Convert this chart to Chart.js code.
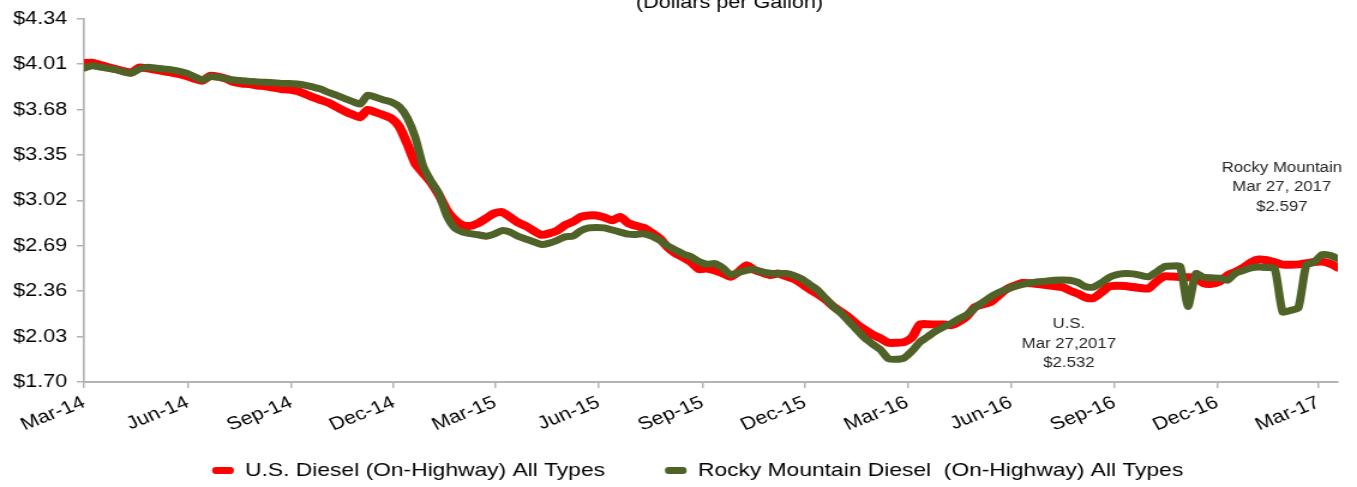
<!DOCTYPE html>
<html lang="en">
<head>
  <meta charset="UTF-8">
  <title>U.S. vs Rocky Mountain Diesel Prices</title>
  <script src="https://cdn.jsdelivr.net/npm/chart.js"></script>
  <style>
    body {
      margin: 0;
      background-color: #ffffff;
    }
  </style>
</head>
<body>
  <!-- the reference is a horizontally stretched picture, so the canvas is drawn narrower and stretched -->
  <canvas id="priceChart" width="1131" height="487" style="display:block;width:1357px;height:487px"></canvas>

  <script>
    // weekly prices, first week = Mar 10, 2014, last week = Mar 27, 2017
    const usDiesel = [
      4.018, 4.020, 4.005, 3.990, 3.975, 3.960, 3.950, 3.985, 3.980, 3.970,
      3.960, 3.950, 3.940, 3.925, 3.905, 3.890, 3.925, 3.920, 3.905, 3.880,
      3.870, 3.865, 3.855, 3.850, 3.840, 3.830, 3.825, 3.815, 3.795, 3.770,
      3.750, 3.730, 3.700, 3.670, 3.645, 3.625, 3.678, 3.660, 3.640, 3.615,
      3.555, 3.430, 3.290, 3.220, 3.150, 3.060, 2.950, 2.880, 2.840, 2.835,
      2.855, 2.890, 2.925, 2.935, 2.900, 2.860, 2.835, 2.800, 2.770, 2.780,
      2.800, 2.840, 2.865, 2.900, 2.910, 2.910, 2.895, 2.875, 2.900, 2.855,
      2.835, 2.820, 2.785, 2.745, 2.680, 2.635, 2.605, 2.570, 2.520, 2.525,
      2.510, 2.490, 2.465, 2.500, 2.548, 2.515, 2.495, 2.478, 2.488, 2.470,
      2.450, 2.415, 2.375, 2.340, 2.300, 2.250, 2.210, 2.170, 2.120, 2.080,
      2.045, 2.017, 1.985, 1.985, 1.990, 2.025, 2.118, 2.120, 2.118, 2.118,
      2.113, 2.140, 2.180, 2.245, 2.265, 2.282, 2.330, 2.375, 2.400, 2.420,
      2.418, 2.412, 2.405, 2.398, 2.390, 2.365, 2.343, 2.315, 2.310, 2.350,
      2.395, 2.400, 2.398, 2.390, 2.383, 2.380, 2.430, 2.468, 2.466, 2.464,
      2.462, 2.455, 2.418, 2.414, 2.430, 2.475, 2.500, 2.530, 2.570, 2.590,
      2.585, 2.570, 2.553, 2.553, 2.555, 2.563, 2.572, 2.575, 2.560, 2.532
    ];

    const rockyDiesel = [
      3.982, 3.999, 3.990, 3.980, 3.970, 3.955, 3.945, 3.975, 3.987, 3.983,
      3.975, 3.970, 3.960, 3.945, 3.920, 3.895, 3.920, 3.915, 3.905, 3.895,
      3.890, 3.885, 3.880, 3.878, 3.875, 3.870, 3.870, 3.866, 3.858, 3.845,
      3.830, 3.805, 3.785, 3.762, 3.740, 3.720, 3.785, 3.770, 3.750, 3.735,
      3.700, 3.620, 3.480, 3.270, 3.160, 3.070, 2.910, 2.820, 2.790, 2.778,
      2.770, 2.760, 2.775, 2.800, 2.790, 2.760, 2.740, 2.720, 2.700, 2.710,
      2.730, 2.755, 2.760, 2.800, 2.820, 2.823, 2.820, 2.805, 2.790, 2.775,
      2.772, 2.778, 2.760, 2.730, 2.690, 2.660, 2.630, 2.610, 2.575, 2.556,
      2.561, 2.530, 2.480, 2.495, 2.512, 2.517, 2.500, 2.490, 2.488, 2.488,
      2.475, 2.450, 2.410, 2.370, 2.310, 2.250, 2.200, 2.140, 2.080, 2.020,
      1.975, 1.935, 1.870, 1.865, 1.875, 1.925, 1.990, 2.030, 2.070, 2.100,
      2.126, 2.160, 2.190, 2.240, 2.280, 2.320, 2.350, 2.375, 2.395, 2.410,
      2.420, 2.428, 2.432, 2.440, 2.442, 2.440, 2.425, 2.393, 2.390, 2.420,
      2.460, 2.480, 2.488, 2.486, 2.475, 2.465, 2.500, 2.538, 2.543, 2.540,
      2.250, 2.488, 2.460, 2.457, 2.455, 2.440, 2.490, 2.510, 2.530, 2.536,
      2.532, 2.525, 2.210, 2.220, 2.240, 2.550, 2.572, 2.625, 2.620, 2.597
    ];

    const weeks = usDiesel.map((_, i) => i);

    const xTickLabels = ['Mar-14', 'Jun-14', 'Sep-14', 'Dec-14', 'Mar-15', 'Jun-15', 'Sep-15',
                         'Dec-15', 'Mar-16', 'Jun-16', 'Sep-16', 'Dec-16', 'Mar-17'];
    const xTickDates = ['2014-03-10', '2014-06-10', '2014-09-10', '2014-12-10', '2015-03-10',
                        '2015-06-10', '2015-09-10', '2015-12-10', '2016-03-10', '2016-06-10',
                        '2016-09-10', '2016-12-10', '2017-03-10'];
    const yTicks = [1.70, 2.03, 2.36, 2.69, 3.02, 3.35, 3.68, 4.01, 4.34];

    const notes = [
      { week: 151.9, price: 3.114, lines: ['Rocky Mountain', 'Mar 27, 2017', '$2.597'] },
      { week: 124.9, price: 1.976, lines: ['U.S.', 'Mar 27,2017', '$2.532'] }
    ];

    const START = Date.parse('2014-03-10');
    const WEEK = 7 * 24 * 3600 * 1000;
    const xTickPos = xTickDates.map(d => (Date.parse(d) - START) / WEEK);

    const FONT = 'Arial, "Liberation Sans", sans-serif';
    const AXIS_GREY = '#b4b4b4';

    // text that is not part of a dataset: the cut off subtitle and the two price notes
    const notesPlugin = {
      id: 'notes',
      afterLayout(chart) {
        // the legend row sits a little right of the canvas centre and a bit lower
        const lg = chart.legend;
        lg.left += 24; lg.right += 24;
        lg.top += 3; lg.bottom += 3;
      },
      afterDraw(chart) {
        const { ctx, scales: { x, y } } = chart;
        ctx.save();
        ctx.textAlign = 'center';

        ctx.font = '18px ' + FONT;
        ctx.fillStyle = '#000000';
        ctx.textBaseline = 'alphabetic';
        ctx.fillText('(Dollars per Gallon)', 608, 8);

        ctx.font = '14px ' + FONT;
        ctx.fillStyle = '#262626';
        ctx.textBaseline = 'middle';
        notes.forEach(n => {
          const cx = x.getPixelForValue(n.week);
          const cy = y.getPixelForValue(n.price);
          n.lines.forEach((t, i) => ctx.fillText(t, cx, cy + (i - 1) * 19.5));
        });
        ctx.restore();
      }
    };

    const ctx = document.getElementById('priceChart').getContext('2d');

    const priceChart = new Chart(ctx, {
      type: 'line',
      data: {
        labels: weeks,
        datasets: [{
          label: 'U.S. Diesel (On-Highway) All Types',
          data: usDiesel,
          borderColor: '#ff0000',
          backgroundColor: '#ff0000',
          borderWidth: 8,
          pointRadius: 0,
          tension: 0.2,
          borderJoinStyle: 'round',
          borderCapStyle: 'round',
          order: 1
        }, {
          label: 'Rocky Mountain Diesel  (On-Highway) All Types',
          data: rockyDiesel,
          borderColor: '#4f6228',
          backgroundColor: '#4f6228',
          borderWidth: 7,
          pointRadius: 0,
          tension: 0.2,
          borderJoinStyle: 'round',
          borderCapStyle: 'round',
          order: 0
        }]
      },
      options: {
        responsive: false,
        devicePixelRatio: 1,
        animation: false,
        layout: {
          padding: { top: 18, right: 16, left: 0, bottom: 0 }
        },
        plugins: {
          tooltip: { enabled: false },
          legend: {
            display: true,
            position: 'bottom',
            labels: {
              color: '#000000',
              font: { size: 19, family: FONT },
              boxWidth: 18,
              boxHeight: 7,
              padding: 50,
              useBorderRadius: true,
              borderRadius: 3,
              sort: (a, b) => a.datasetIndex - b.datasetIndex,
              generateLabels: chart => Chart.defaults.plugins.legend.labels.generateLabels(chart)
                .map(l => ({ ...l, lineWidth: 0 }))
            }
          }
        },
        scales: {
          x: {
            type: 'linear',
            min: 0,
            max: weeks[weeks.length - 1],
            afterBuildTicks: s => {
              s.ticks = xTickPos.map(v => ({ value: v }));
              s._computeLabelArea = () => undefined; // let the slanted labels run below the axis box
            },
            afterFit: s => { s.height = 26; },
            ticks: {
              autoSkip: false,
              minRotation: 25,
              maxRotation: 25,
              padding: 4,
              color: '#000000',
              font: { size: 18, family: FONT },
              callback: (v, i) => xTickLabels[i]
            },
            grid: { drawOnChartArea: false, tickLength: 6, color: AXIS_GREY, lineWidth: 1.5 },
            border: { color: AXIS_GREY, width: 2 }
          },
          y: {
            min: yTicks[0],
            max: yTicks[yTicks.length - 1],
            afterBuildTicks: s => { s.ticks = yTicks.map(v => ({ value: v })); },
            afterFit: s => { s.width = 70; },
            ticks: {
              padding: 8,
              color: '#000000',
              font: { size: 18, family: FONT },
              callback: v => '$' + v.toFixed(2)
            },
            grid: { drawOnChartArea: false, tickLength: 6, color: AXIS_GREY, lineWidth: 1.5 },
            border: { color: AXIS_GREY, width: 1.7 }
          }
        }
      },
      plugins: [notesPlugin]
    });
  </script>
</body>
</html>
